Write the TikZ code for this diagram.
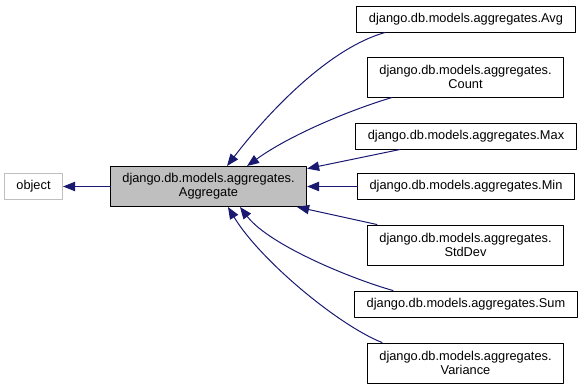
\documentclass[tikz,border=0pt]{standalone}
\usepackage{fontspec}
\setmainfont{Liberation Sans}
\usetikzlibrary{arrows.meta}
\definecolor{edgeblue}{RGB}{25,25,112}
\definecolor{basegray}{RGB}{191,191,191}

\tikzset{
  classbox/.style={draw=black,fill=white,line width=0.75pt,inner xsep=9pt,inner ysep=1pt,align=center,
    font=\fontsize{9.6}{10.7}\selectfont,minimum height=19.5pt},
  twoline/.style={classbox,minimum height=30pt},
  inherit/.style={draw=edgeblue,line width=0.75pt,-{Triangle[length=9pt,width=7pt]}}
}

\begin{document}
\begin{tikzpicture}[line cap=round,line join=round,x=0.75pt,y=-0.75pt]
  \useasboundingbox (0,0) rectangle (583,389);
  % base classes
  \node[classbox,draw=basegray] (object) at (33.5,186.5) {object};
  \node[twoline,fill=basegray] (aggregate) at (208.5,186.5) {django.db.models.aggregates.\\Aggregate};
  % derived classes
  \node[classbox] (avg) at (466,19) {django.db.models.aggregates.Avg};
  \node[twoline] (count) at (465.5,77) {django.db.models.aggregates.\\Count};
  \node[classbox] (max) at (466,136) {django.db.models.aggregates.Max};
  \node[classbox] (min) at (466,186.5) {django.db.models.aggregates.Min};
  \node[twoline] (stddev) at (465.5,245) {django.db.models.aggregates.\\StdDev};
  \node[classbox] (sum) at (466,304) {django.db.models.aggregates.Sum};
  \node[twoline] (variance) at (465.5,363) {django.db.models.aggregates.\\Variance};

  \draw[inherit] (aggregate.west) -- (object.east);
  \draw[inherit] ([xshift=-60.75pt]avg.south) .. controls (330,48) and (270,110) .. ([xshift=13.9pt]aggregate.north);
  \draw[inherit] ([xshift=-55.1pt]count.south) .. controls (350,110) and (290,135) .. ([xshift=28.9pt]aggregate.north);
  \draw[inherit] ([xshift=-49.5pt]max.south) -- ([yshift=-2pt]aggregate.north east);
  \draw[inherit] (min.west) -- (aggregate.east);
  \draw[inherit] ([xshift=7.5pt]stddev.north west) -- ([xshift=-7.5pt]aggregate.south east);
  \draw[inherit] ([xshift=-54.75pt]sum.north) .. controls (355,280) and (270,246) .. ([xshift=23.6pt]aggregate.south);
  \draw[inherit] ([xshift=-62.6pt]variance.north) .. controls (338,325) and (260,260) .. ([xshift=14.6pt]aggregate.south);
\end{tikzpicture}
\end{document}
